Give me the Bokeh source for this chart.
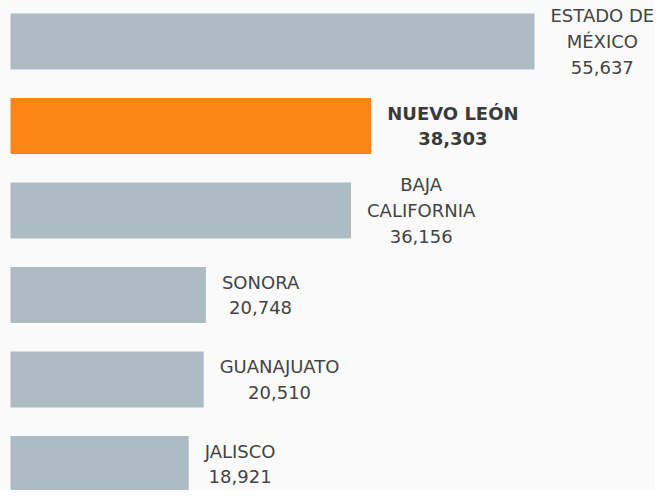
from bokeh.plotting import figure
from bokeh.models import ColumnDataSource, Range1d
from bokeh.embed import file_html
from bokeh.resources import INLINE
from bokeh.core.properties import value

states = ["ESTADO DE\nMÉXICO", "NUEVO LEÓN", "BAJA\nCALIFORNIA", "SONORA", "GUANAJUATO", "JALISCO"]
values = [55637, 38303, 36156, 20748, 20510, 18921]
highlight = [False, True, False, False, False, False]

W, H = 655, 490
left_px = 10
scale = 524 / 55637  # px per unit
step = 84.5
top_c = 41
x0 = -left_px / scale
x1 = x0 + W / scale
y0 = -top_c / step
y1 = (H - top_c) / step

idx = list(range(len(states)))
colors = ["#FC8515" if h else "#ADBCC3" for h in highlight]
labels = [f"{s}\n{v:,}" for s, v in zip(states, values)]
tcolors = ["#3a3a3a" if h else "#444444" for h in highlight]
tstyles = ["bold" if h else "normal" for h in highlight]

src = ColumnDataSource(dict(y=idx, v=values, c=colors, lab=labels, tc=tcolors, ts=tstyles))

p = figure(width=W, height=H, output_backend="svg", toolbar_location=None,
           x_range=Range1d(x0, x1), y_range=Range1d(y1, y0), min_border=0)
p.axis.visible = False
p.grid.visible = False
p.outline_line_color = None
p.background_fill_color = "#FAFAFA"
p.border_fill_color = "#FAFAFA"

p.hbar(y="y", left=0, right="v", height=56 / step, fill_color="c", line_color=None, source=src)

p.text(x="v", y="y", text="lab", source=src, x_offset=16, anchor="center_left",
       text_align="center", text_baseline="middle", text_font=value("DejaVu Sans"),
       text_font_size="18px", text_color="tc", text_font_style="ts", text_line_height=1.22)

open("out.html", "w").write(file_html(p, INLINE))
